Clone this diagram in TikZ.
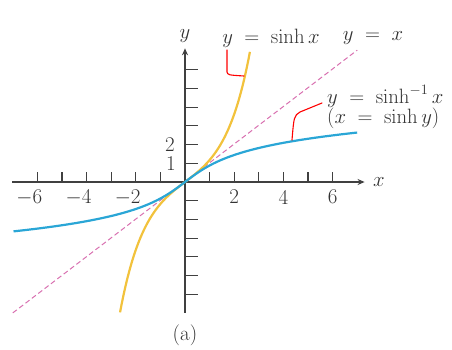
\documentclass[tikz,border=0pt]{standalone}
\usetikzlibrary{arrows.meta}
\definecolor{axisgray}{HTML}{404040}
\definecolor{sinhcol}{HTML}{F2C23C}
\definecolor{asinhcol}{HTML}{2AA6D6}
\definecolor{dashcol}{HTML}{D870B0}
\begin{document}
\begin{tikzpicture}[x=24.6pt,y=18.7pt,
  lbl/.style={font=\fontsize{21}{24}\selectfont, inner sep=0pt, text=black!80},
  axisline/.style={axisgray, line width=1.3pt},
  tickmark/.style={axisgray, line width=1.1pt},
  curve/.style={line width=2.2pt},
  annot/.style={red, line width=1.1pt, line cap=round, line join=round}]
\useasboundingbox (-185pt,-167pt) rectangle (267pt,182pt);
% ticks
\foreach \i in {-6,...,-1,1,2,...,6} {
  \draw[tickmark] (\i,0) -- ++(0,10pt);
  \draw[tickmark] (0,\i) -- ++(13pt,0);
}
% axes
\coordinate (xl) at (-7.02,0);
\coordinate (xr) at (7.3,0);
\coordinate (yb) at (0,-7.0);
\coordinate (yt) at (0,7.15);
\draw[axisline,-{Stealth[length=7pt,width=6pt]}] (xl) -- (xr);
\draw[axisline,-{Stealth[length=7pt,width=6pt]}] (yb) -- (yt);
% y = x
\coordinate (d1) at (-7.0,-7.0);
\coordinate (d2) at (7.0,7.05);
\draw[dashcol, line width=1pt, dash pattern=on 5pt off 3pt] (d1) -- (d2);
% sinh
\draw[curve, sinhcol, domain=-2.64:2.64, samples=120, smooth] plot (\x,{sinh(\x)});
% asinh
\draw[curve, asinhcol, domain=-2.64:2.645, samples=120, smooth] plot ({sinh(\x)},\x);
% labels
\node[lbl] (ylab) at (0pt,146pt) {$y$};
\node[lbl] (xlab) at (194pt,0pt) {$x$};
\node[lbl] (s1) at (86pt,144pt) {$y \;=\; \sinh x$};
\node[lbl] (s2) at (188pt,144pt) {$y \;=\; x$};
\node[lbl, anchor=west] (s3) at (142pt,86pt) {$y \;=\; \sinh^{-1} x$};
\node[lbl, anchor=west] (s4) at (142pt,64pt) {$(x \;=\; \sinh y)$};
\node[lbl] (t1) at (-14pt,18pt) {1};
\node[lbl] (t2) at (-15pt,37pt) {2};
\foreach \i in {-6,-4,-2} {
  \node[lbl] (n\i) at (\i,-15pt) {\llap{$-$}\the\numexpr-\i\relax};
}
\foreach \i in {2,4,6} {
  \node[lbl] (p\i) at (\i,-15pt) {\i};
}
\node[lbl] (cap) at (0pt,-153pt) {(a)};
% red annotations
\draw[annot] (42pt,132pt) -- (42pt,110pt) .. controls (43pt,107pt) .. (59pt,106pt);
\draw[annot] (137pt,79pt) -- (115pt,70pt) .. controls (109pt,66pt) .. (107pt,42pt);
\end{tikzpicture}
\end{document}
